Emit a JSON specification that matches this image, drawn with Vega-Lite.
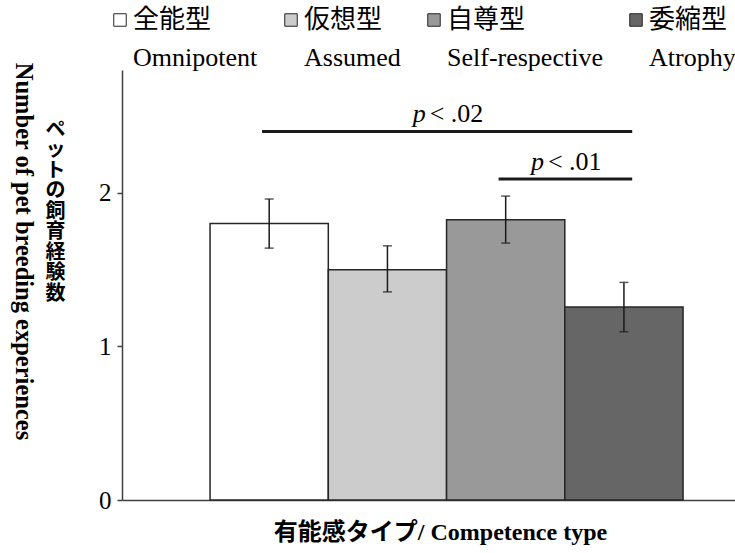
{
  "$schema": "https://vega.github.io/schema/vega-lite/v6.json",
  "width": 613,
  "height": 430,
  "autosize": {"type": "none"},
  "padding": {"left": 122, "top": 70, "right": 0, "bottom": 53},
  "background": "white",
  "config": {
    "view": {"stroke": null},
    "font": "Liberation Serif, Noto Sans CJK JP",
    "axisX": {
      "labels": false, "ticks": false,
      "domainColor": "#404040", "domainWidth": 1.5,
      "titleFont": "Liberation Serif, Noto Sans CJK JP",
      "titleFontSize": 24, "titleFontWeight": "bold", "titleColor": "black",
      "titleX": 318, "titlePadding": 20, "titleAlign": "center"
    }
  },
  "datasets": {
    "groups": [
      {"type": "Omnipotent", "type_ja": "全能型", "mean": 1.8, "lower": 1.64, "upper": 1.96},
      {"type": "Assumed", "type_ja": "仮想型", "mean": 1.5, "lower": 1.355, "upper": 1.655},
      {"type": "Self-respective", "type_ja": "自尊型", "mean": 1.825, "lower": 1.673, "upper": 1.979},
      {"type": "Atrophy", "type_ja": "委縮型", "mean": 1.257, "lower": 1.096, "upper": 1.417}
    ],
    "tests": [
      {"from": "Omnipotent", "to": "Atrophy", "level": 2.4, "label": "< .02", "textAt": "Assumed"},
      {"from": "Self-respective", "to": "Atrophy", "level": 2.09, "label": "< .01", "textAt": "Self-respective"}
    ]
  },
  "layer": [
    {
      "data": {"name": "groups"},
      "mark": {"type": "bar", "stroke": "#262626", "strokeWidth": 1.5},
      "encoding": {
        "x": {
          "field": "type", "type": "nominal",
          "scale": {"domain": ["Omnipotent", "Assumed", "Self-respective", "Atrophy"], "paddingInner": 0, "paddingOuter": 0.592, "align": 0.629},
          "axis": {"title": "有能感タイプ/ Competence type"}
        },
        "y": {
          "field": "mean", "type": "quantitative",
          "scale": {"domain": [0, 2.8], "nice": false},
          "axis": {
            "values": [0, 1, 2], "grid": false,
            "labelFontSize": 25, "labelColor": "black", "labelPadding": 6,
            "tickSize": 5, "tickColor": "#404040", "tickWidth": 1.5,
            "domainColor": "#404040", "domainWidth": 1.5,
            "title": ["ペ", "ッ", "ト", "の", "飼", "育", "経", "験", "数"],
            "titleAngle": 0, "titleX": -67, "titleY": 49,
            "titleAlign": "center", "titleBaseline": "top", "titleLineHeight": 20.5,
            "titleFont": "Noto Sans CJK JP", "titleFontSize": 20, "titleFontWeight": "bold", "titleColor": "black"
          }
        },
        "fill": {
          "field": "type", "type": "nominal",
          "scale": {"domain": ["Omnipotent", "Assumed", "Self-respective", "Atrophy"], "range": ["#ffffff", "#cccccc", "#999999", "#666666"]},
          "legend": {
            "title": null, "orient": "none", "legendX": -15, "legendY": -63,
            "direction": "horizontal", "columns": 4, "gridAlign": "none", "columnPadding": 20,
            "symbolType": "square", "symbolSize": 156, "symbolStrokeColor": "#262626", "symbolStrokeWidth": 1,
            "symbolOffset": 0, "labelOffset": 0, "padding": 0,
            "labelFont": "Liberation Serif, Noto Sans CJK JP", "labelFontSize": 26, "labelColor": "black",
            "labelBaseline": "middle", "labelLimit": 0,
            "labelExpr": "[{'Omnipotent': '全能型', 'Assumed': '仮想型', 'Self-respective': '自尊型', 'Atrophy': '委縮型'}[datum.label], datum.label]",
            "encoding": {"labels": {"lineHeight": {"value": 38}}}
          }
        }
      }
    },
    {
      "data": {"name": "groups"},
      "mark": {"type": "errorbar", "ticks": {"size": 9, "thickness": 1.5, "color": "#1a1a1a"}, "rule": {"strokeWidth": 1.5, "color": "#1a1a1a"}},
      "encoding": {
        "x": {"field": "type", "type": "nominal", "axis": {"title": "有能感タイプ/ Competence type"}},
        "y": {
          "field": "lower", "type": "quantitative",
          "axis": {
            "orient": "left", "domain": false, "ticks": false, "labels": false, "grid": false,
            "title": "Number of pet breeding experiences",
            "titleAngle": 90, "titleX": -100, "titleY": 181, "titleAlign": "center", "titleBaseline": "middle",
            "titleFont": "Liberation Serif", "titleFontSize": 24.5, "titleFontWeight": "bold", "titleColor": "black"
          }
        },
        "y2": {"field": "upper"}
      }
    },
    {
      "data": {"name": "tests"},
      "mark": {"type": "rule", "strokeWidth": 3, "color": "#1a1a1a"},
      "encoding": {
        "x": {"field": "from", "type": "nominal", "bandPosition": 0.44, "axis": {"title": "有能感タイプ/ Competence type"}},
        "x2": {"field": "to", "bandPosition": 0.57},
        "y": {"field": "level", "type": "quantitative", "axis": null}
      }
    },
    {
      "data": {"name": "tests"},
      "mark": {"type": "text", "text": "p", "font": "Liberation Serif", "fontStyle": "italic", "fontSize": 26, "color": "black", "align": "right", "baseline": "alphabetic", "dx": -2, "dy": -9},
      "encoding": {
        "x": {"field": "textAt", "type": "nominal", "bandPosition": 0.84, "axis": {"title": "有能感タイプ/ Competence type"}},
        "y": {"field": "level", "type": "quantitative", "axis": null}
      }
    },
    {
      "data": {"name": "tests"},
      "mark": {"type": "text", "font": "Liberation Serif", "fontSize": 26, "color": "black", "align": "left", "baseline": "alphabetic", "dx": 2, "dy": -9},
      "encoding": {
        "x": {"field": "textAt", "type": "nominal", "bandPosition": 0.84, "axis": {"title": "有能感タイプ/ Competence type"}},
        "y": {"field": "level", "type": "quantitative", "axis": null},
        "text": {"field": "label"}
      }
    }
  ],
  "resolve": {"axis": {"y": "independent"}}
}
